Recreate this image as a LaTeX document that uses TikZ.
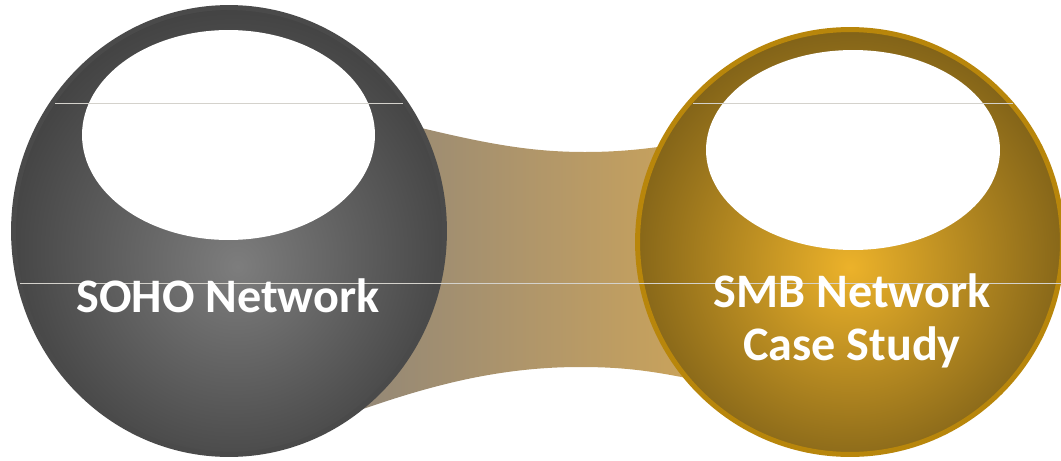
\documentclass[tikz,border=0pt]{standalone}
\usepackage{fontspec}
\setmainfont{Carlito}
\usetikzlibrary{shapes.geometric}
\definecolor{sohoinner}{RGB}{125, 125, 125}
\definecolor{sohoouter}{RGB}{58, 58, 58}
\definecolor{sohorim}{RGB}{74, 74, 74}
\definecolor{smbinner}{RGB}{236, 178, 42}
\definecolor{smbouter}{RGB}{111, 85, 21}
\definecolor{smbrim}{RGB}{184, 134, 11}
\definecolor{bandgray}{RGB}{142, 133, 121}
\definecolor{bandmid}{RGB}{180, 152, 104}
\definecolor{bandgold}{RGB}{220, 172, 79}
\definecolor{guidegray}{RGB}{212, 210, 204}
\pgfdeclareradialshading{sohoshade}{\pgfpoint{1bp}{-4bp}}{color(0bp)=(sohoinner); color(31bp)=(sohoouter); color(50bp)=(sohoouter)}
\pgfdeclareradialshading{smbshade}{\pgfpoint{0bp}{-3bp}}{color(0bp)=(smbinner); color(31bp)=(smbouter); color(50bp)=(smbouter)}
\pgfdeclarehorizontalshading{bandfade}{100bp}{color(0bp)=(bandgray); color(27bp)=(bandgray); color(55bp)=(bandmid); color(85bp)=(bandgold); color(100bp)=(bandgold)}
\begin{document}
\begin{tikzpicture}[
        x=0.02cm, y=-0.02cm,
        ball/.style={ellipse, inner sep=0pt, line width=0.1cm},
        sohoball/.style={ball, draw=sohorim, shading=sohoshade, minimum width=8.62cm, minimum height=8.94cm},
        smbball/.style={ball, draw=smbrim, shading=smbshade, minimum width=8.5cm, minimum height=8.5cm},
        gloss/.style={ellipse, fill=white, inner sep=0pt},
        balltext/.style={text=white, font=\bfseries\fontsize{27.4}{30}\selectfont, align=center},
        guide/.style={draw=guidegray, line width=0.02cm}
    ]
    \useasboundingbox (0,0) rectangle (1061,460);

    % Bridge between the two balls
    \shade[shading=bandfade] (380,118) .. controls (470,140) and (520,152) .. (585,152)
        .. controls (630,152) and (660,147) .. (720,138) -- (720,385)
        .. controls (660,372) and (630,367) .. (580,367)
        .. controls (480,367) and (400,395) .. (310,428) -- cycle;

    % Balls
    \node[sohoball] (soho) at (229,231) {};
    \node[smbball] (smb) at (850,242) {};

    % Highlights
    \node[gloss, minimum width=5.86cm, minimum height=4.2cm] (sohogloss) at (228.5,135) {};
    \node[gloss, minimum width=5.88cm, minimum height=4cm] (smbgloss) at (853,150) {};

    % Guide lines
    \draw[guide] (55,103) -- (403,103);
    \draw[guide] (693,103) -- (1013,103);
    \draw[guide] (20,283) -- (1061,283);

    % Labels
    \node[balltext, anchor=base] (sohotext) at (228,312) {SOHO Network};
    \node[balltext, anchor=base] (smbtext) at (852,360) {SMB Network\\Case Study};

\end{tikzpicture}
\end{document}
